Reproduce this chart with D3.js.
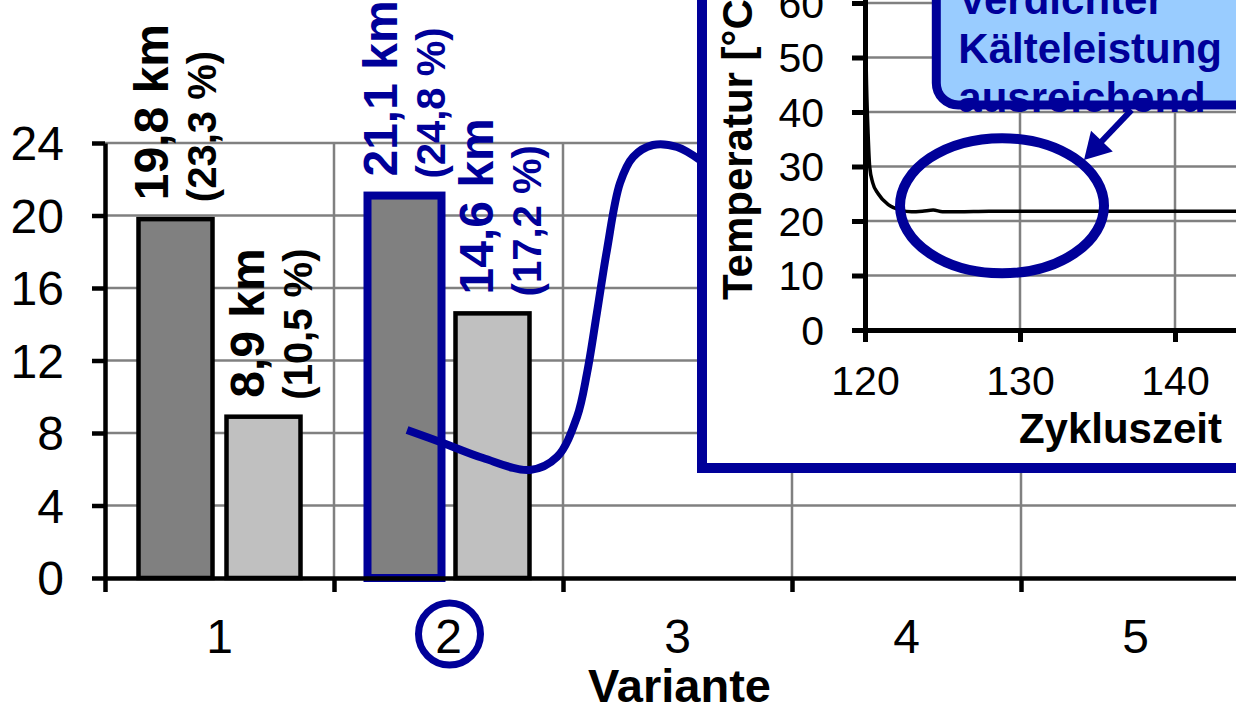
<!DOCTYPE html>
<html><head><meta charset="utf-8">
<script src="https://cdn.jsdelivr.net/npm/d3@7"></script>
<style>
html,body{margin:0;padding:0;background:#fff;overflow:hidden}
svg{display:block;font-family:"Liberation Sans",Arial,Helvetica,sans-serif}
</style></head>
<body>
<svg id="c" width="1236" height="708"></svg>
<script>
// ---------- data ----------
const categories = [1, 2, 3, 4, 5];
const yTicks = [0, 4, 8, 12, 16, 20, 24];
const seriesDark = [19.8, 21.1, null, null, null];
const seriesLight = [8.9, 14.6, null, null, null];
const labelsDark = ["19,8 km", "21,1 km", null, null, null];
const pctDark = ["(23,3 %)", "(24,8 %)", null, null, null];
const labelsLight = ["8,9 km", "14,6 km", null, null, null];
const pctLight = ["(10,5 %)", "(17,2 %)", null, null, null];
const highlightCategory = 2;
const xTitle = "Variante";

// inset chart (temperature over cycle time)
const insetTime = [120.0, 120.05, 120.1, 120.2, 120.3, 120.5, 120.85, 121.5, 122.3, 123.0, 123.7, 124.4, 125.0, 126, 128, 130, 132, 134, 136, 138, 140, 142, 144, 146, 148];
const insetTemp = [62, 52, 45, 36, 30, 27, 25, 23, 22, 21.7, 21.8, 22.0, 21.7, 21.7, 21.8, 21.8, 21.8, 21.8, 21.8, 21.8, 21.8, 21.8, 21.8, 21.8, 21.8];
const insetYTicks = [0, 10, 20, 30, 40, 50, 60];
const insetXTicks = [120, 130, 140];
const insetXTitle = "Zykluszeit";
const insetYTitle = "Temperatur [°C]";

// annotations
const calloutLines = ["Verdichter", "Kälteleistung", "ausreichend"];
// connector curve, in main-chart data units (category position, km)
const connectorX = [1.819, 1.976, 2.151, 2.356, 2.474, 2.561, 2.605, 2.648, 2.692, 2.749, 2.806, 2.893, 2.998, 3.098];
const connectorY = [8.17, 7.45, 6.62, 5.96, 6.68, 8.88, 11.31, 14.62, 18.10, 21.79, 23.23, 23.89, 23.78, 23.06];
// ellipse in inset data units: centre time, centre temp, half-width (time), half-height (temp)
const ellipseInset = [128.84, 22.8, 6.58, 12.4];
// arrow in inset data units: from (time,temp) to (time,temp)
const arrowFrom = [137.2, 40.4];
const arrowTo = [134.13, 31.2];
// callout box corner (left, bottom) in inset data units
const calloutCorner = [124.6, 41.3];

// ---------- styles ----------
const BLUE = "#000099";
const GRID = "#808080";
const FONT = '"Liberation Sans",Arial,Helvetica,sans-serif';

const svg = d3.select("#c");

// ---------- main scales ----------
const x = d3.scaleBand().domain(categories).range([105, 1250]).padding(0);
const xc = d3.scaleLinear().domain([0.5, 5.5]).range([105, 1250]);
const y = d3.scaleLinear().domain([0, 24]).range([578, 143]);
const bw = x.bandwidth();
const barW = 74, barGap = 14;

// gridlines
const g = svg.append("g");
g.selectAll(".hg").data(yTicks.filter(d => d > 0)).enter().append("line")
  .attr("x1", xc(0.5)).attr("x2", xc(5.5)).attr("y1", d => y(d)).attr("y2", d => y(d))
  .attr("stroke", GRID).attr("stroke-width", 2.5);
g.selectAll(".vg").data([1.5, 2.5, 3.5, 4.5]).enter().append("line")
  .attr("x1", d => xc(d)).attr("x2", d => xc(d)).attr("y1", y(0)).attr("y2", y(24))
  .attr("stroke", GRID).attr("stroke-width", 2.5);

// bars
const barsData = [];
categories.forEach((c, i) => {
  if (seriesDark[i] != null) barsData.push({c, v: seriesDark[i], kind: "dark", lab: labelsDark[i], pct: pctDark[i]});
  if (seriesLight[i] != null) barsData.push({c, v: seriesLight[i], kind: "light", lab: labelsLight[i], pct: pctLight[i]});
});
function barCenter(d) {
  const cc = x(d.c) + bw / 2;
  return d.kind === "dark" ? cc - (barW + barGap) / 2 : cc + (barW + barGap) / 2;
}
svg.selectAll(".bar").data(barsData).enter().append("rect")
  .attr("x", d => barCenter(d) - barW / 2)
  .attr("width", barW)
  .attr("y", d => y(d.v))
  .attr("height", d => y(0) - y(d.v))
  .attr("fill", d => d.kind === "dark" ? "#808080" : "#C0C0C0")
  .attr("stroke", d => (d.c === highlightCategory && d.kind === "dark") ? BLUE : "#000")
  .attr("stroke-width", d => (d.c === highlightCategory && d.kind === "dark") ? 8 : 4.5);

// axes
const yAxis = d3.axisLeft(y).tickValues(yTicks).tickSize(13).tickSizeOuter(0).tickPadding(28);
const ya = svg.append("g").attr("transform", `translate(${xc(0.5)},0)`).call(yAxis);
ya.select(".domain").attr("stroke", "#000").attr("stroke-width", 4.5);
ya.selectAll(".tick line").attr("stroke", "#000").attr("stroke-width", 4.5);
ya.selectAll(".tick text").attr("font-size", 48).attr("font-family", FONT).attr("fill", "#000").attr("dy", "0.35em");

const xTickAxis = d3.axisBottom(xc).tickValues([0.5, 1.5, 2.5, 3.5, 4.5, 5.5]).tickSize(14).tickSizeOuter(0).tickFormat("");
const xt = svg.append("g").attr("transform", `translate(0,${y(0)})`).call(xTickAxis);
xt.select(".domain").attr("stroke", "#000").attr("stroke-width", 4.5);
xt.selectAll(".tick line").attr("stroke", "#000").attr("stroke-width", 4.5);

const xAxis = d3.axisBottom(x).tickSize(0).tickPadding(41);
const xa = svg.append("g").attr("transform", `translate(0,${y(0)})`).call(xAxis);
xa.select(".domain").remove();
xa.selectAll(".tick text").attr("font-size", 48).attr("font-family", FONT).attr("fill", "#000");

svg.append("text").attr("x", xc(3) + 2).attr("y", 702).attr("text-anchor", "middle")
  .attr("font-size", 47).attr("font-weight", "bold").attr("fill", "#000").text(xTitle);

// bar labels (rotated)
const lab = svg.selectAll(".lab").data(barsData).enter().append("g")
  .attr("fill", d => d.c === highlightCategory ? BLUE : "#000");
lab.append("text")
  .attr("transform", d => `translate(${barCenter(d) + (d.kind === "dark" ? -8 : 0)},${y(d.v) - 19}) rotate(-90)`)
  .attr("font-size", 48).attr("font-weight", "bold").text(d => d.lab);
lab.append("text")
  .attr("transform", d => `translate(${barCenter(d) + (d.kind === "dark" ? -8 : 0) + 48},${y(d.v) - 17}) rotate(-90)`)
  .attr("font-size", 40).attr("font-weight", "bold").text(d => d.pct);

// circle round highlighted category label
svg.append("circle").attr("cx", x(highlightCategory) + bw / 2 + 1).attr("cy", y(0) + 56).attr("r", 31)
  .attr("fill", "none").attr("stroke", BLUE).attr("stroke-width", 7);

// connector curve
const conn = connectorX.map((v, i) => [xc(v), y(connectorY[i])]);
svg.append("path").attr("d", d3.line().curve(d3.curveCatmullRom.alpha(0.5))(conn))
  .attr("fill", "none").attr("stroke", BLUE).attr("stroke-width", 8).attr("stroke-linecap", "butt");

// ---------- inset ----------
const ix = d3.scaleLinear().domain([120, 150]).range([865, 1330]);
const iy = d3.scaleLinear().domain([0, 70]).range([330, 330 - 70 * 5.45]);

svg.append("rect").attr("x", 702).attr("y", -60).attr("width", 700).attr("height", 468 + 60)
  .attr("fill", "#fff").attr("stroke", BLUE).attr("stroke-width", 10);

const ig = svg.append("g");
ig.selectAll(".ihg").data(insetYTicks.filter(d => d > 0)).enter().append("line")
  .attr("x1", ix(120)).attr("x2", ix(150)).attr("y1", d => iy(d)).attr("y2", d => iy(d))
  .attr("stroke", GRID).attr("stroke-width", 2.5);
ig.selectAll(".ivg").data(insetXTicks.filter(d => d > 120)).enter().append("line")
  .attr("x1", d => ix(d)).attr("x2", d => ix(d)).attr("y1", iy(0)).attr("y2", iy(70))
  .attr("stroke", GRID).attr("stroke-width", 2.5);

// temperature line
svg.append("path").attr("d", d3.line().curve(d3.curveMonotoneX)(insetTime.map((t, i) => [ix(t), iy(insetTemp[i])])))
  .attr("fill", "none").attr("stroke", "#000").attr("stroke-width", 3.5);

const iya = svg.append("g").attr("transform", `translate(${ix(120)},0)`)
  .call(d3.axisLeft(iy).tickValues(insetYTicks).tickSize(13).tickSizeOuter(0).tickPadding(28));
iya.select(".domain").attr("stroke", "#000").attr("stroke-width", 5);
iya.selectAll(".tick line").attr("stroke", "#000").attr("stroke-width", 5);
iya.selectAll(".tick text").attr("font-size", 41).attr("font-family", FONT).attr("fill", "#000").attr("dy", "0.35em");

const ixa = svg.append("g").attr("transform", `translate(0,${iy(0)})`)
  .call(d3.axisBottom(ix).tickValues(insetXTicks).tickSize(12).tickSizeOuter(0).tickPadding(24));
ixa.select(".domain").attr("stroke", "#000").attr("stroke-width", 5);
ixa.selectAll(".tick line").attr("stroke", "#000").attr("stroke-width", 5);
ixa.selectAll(".tick text").attr("font-size", 41).attr("font-family", FONT).attr("fill", "#000");

svg.append("text").attr("x", 1222).attr("y", 443).attr("text-anchor", "end")
  .attr("font-size", 42).attr("font-weight", "bold").attr("fill", "#000").text(insetXTitle);
svg.append("text").attr("transform", `translate(752,300) rotate(-90)`)
  .attr("font-size", 42).attr("font-weight", "bold").attr("fill", "#000").text(insetYTitle);

// ellipse
svg.append("ellipse")
  .attr("cx", ix(ellipseInset[0])).attr("cy", iy(ellipseInset[1]))
  .attr("rx", ix(ellipseInset[0] + ellipseInset[2]) - ix(ellipseInset[0]))
  .attr("ry", iy(0) - iy(ellipseInset[3]))
  .attr("fill", "none").attr("stroke", BLUE).attr("stroke-width", 10);

// callout box
const cbL = ix(calloutCorner[0]), cbB = iy(calloutCorner[1]);
svg.append("rect").attr("x", cbL).attr("y", -80).attr("width", 500).attr("height", cbB + 80)
  .attr("rx", 22).attr("ry", 22)
  .attr("fill", "#99CCFF").attr("stroke", BLUE).attr("stroke-width", 9);
svg.append("g").selectAll("text").data(calloutLines).enter().append("text")
  .attr("x", cbL + 22).attr("y", (d, i) => cbB - 91 + i * 49)
  .attr("font-size", 42).attr("font-weight", "bold").attr("fill", BLUE).text(d => d);

// arrow
const a0 = [ix(arrowFrom[0]), iy(arrowFrom[1])], a1 = [ix(arrowTo[0]), iy(arrowTo[1])];
const dx = a1[0] - a0[0], dy = a1[1] - a0[1], L = Math.hypot(dx, dy);
const ux = dx / L, uy = dy / L, headL = 26, headW = 15;
const base = [a1[0] - ux * headL, a1[1] - uy * headL];
svg.append("line").attr("x1", a0[0]).attr("y1", a0[1]).attr("x2", base[0] + ux * 2).attr("y2", base[1] + uy * 2)
  .attr("stroke", BLUE).attr("stroke-width", 6);
svg.append("path")
  .attr("d", `M${a1[0]},${a1[1]}L${base[0] - uy * headW},${base[1] + ux * headW}L${base[0] + uy * headW},${base[1] - ux * headW}Z`)
  .attr("fill", BLUE);
</script>
</body></html>
